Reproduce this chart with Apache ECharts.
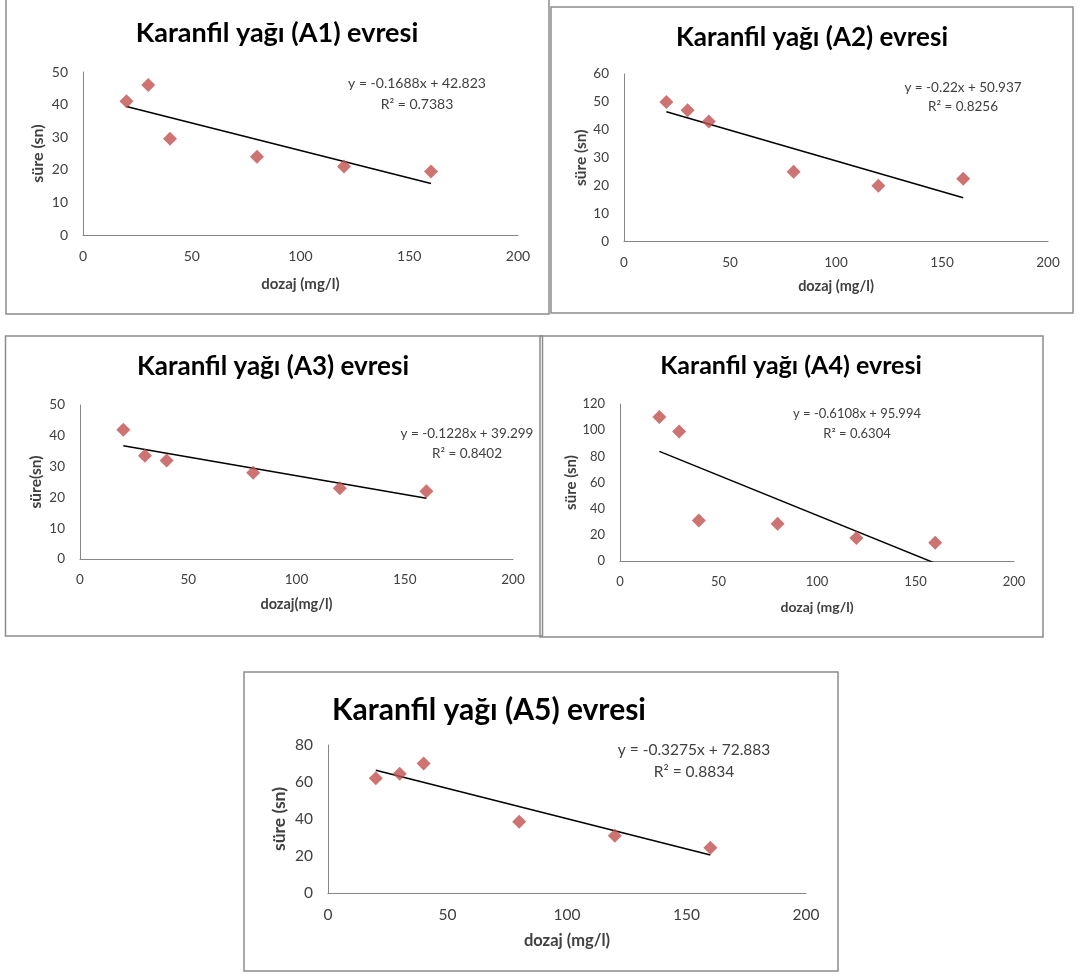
<!DOCTYPE html>
<html>
<head>
<meta charset="utf-8">
<script src="https://cdn.jsdelivr.net/npm/echarts@6/dist/echarts.min.js"></script>
<style>
  html, body { margin: 0; padding: 0; background: #ffffff; }
  #chart { width: 1081px; height: 976px; }
</style>
</head>
<body>
<div id="chart"></div>
<script>
// ---- data ----
const dose = [20, 30, 40, 80, 120, 160];
const timeA1 = [41, 46, 29.5, 24, 21, 19.5];
const timeA2 = [50, 47, 43, 25, 20, 22.5];
const timeA3 = [42, 33.5, 32, 28, 23, 22];
const timeA4 = [110, 99, 31, 28.5, 17.5, 14];
const timeA5 = [62, 64.5, 70, 38.5, 31, 24.5];

// trendline end points (x = 20 and x = 160) as drawn in the reference
const trendX = [20, 160];
const trendA1 = [39.4, 15.8];
const trendA2 = [46.5, 15.7];
const trendA3 = [36.8, 19.7];
const trendA4 = [83.8, -1.7];
const trendA5 = [66.3, 20.5];

const titles = [
  'Karanfil yağı (A1) evresi',
  'Karanfil yağı (A2) evresi',
  'Karanfil yağı (A3) evresi',
  'Karanfil yağı (A4) evresi',
  'Karanfil yağı (A5) evresi'
];
const equations = [
  'y = -0.1688x + 42.823',
  'y = -0.22x + 50.937',
  'y = -0.1228x + 39.299',
  'y = -0.6108x + 95.994',
  'y = -0.3275x + 72.883'
];
const rSquared = ['R² = 0.7383', 'R² = 0.8256', 'R² = 0.8402', 'R² = 0.6304', 'R² = 0.8834'];
const xNames = ['dozaj (mg/l)', 'dozaj (mg/l)', 'dozaj(mg/l)', 'dozaj (mg/l)', 'dozaj (mg/l)'];
const yNames = ['süre (sn)', 'süre (sn)', 'süre(sn)', 'süre (sn)', 'süre (sn)'];
const xMax = 200, xInterval = 50;
const yMax = [50, 60, 50, 120, 80];
const yInterval = [10, 10, 10, 20, 20];

// ---- layout (pixels) ----
const grids = [
  { left: 83, top: 72, width: 435, height: 163 },
  { left: 624, top: 74, width: 424, height: 167.5 },
  { left: 80, top: 405, width: 433, height: 154 },
  { left: 620, top: 404, width: 394, height: 157 },
  { left: 328, top: 745, width: 478, height: 148 }
];
const frames = [
  [6, -2, 543, 316],
  [551, 7, 522, 306],
  [5.5, 336, 537, 300],
  [540, 336, 503, 301],
  [244, 672, 594, 299]
];
const panelScale = [1, 0.97, 0.98, 0.93, 1.1];
const titlePos = [[277, 33], [812, 38], [273, 367], [791, 366], [489, 710]];
const eqPos = [[417, 83, 104], [963, 88, 107], [467, 434, 454], [857, 414, 434], [694, 750, 772]];
const yNameGap = [37, 35, 36, 40, 40];
const xNameGap = [42, 37, 38, 39, 39];

const series = [timeA1, timeA2, timeA3, timeA4, timeA5];
const trends = [trendA1, trendA2, trendA3, trendA4, trendA5];

const FONT = 'Lato, "Open Sans", sans-serif';
const axisColor = '#868686';
const labelColor = '#404040';
const half = v => Math.round(v * 2) / 2;

const option = {
  animation: false,
  backgroundColor: '#ffffff',
  grid: grids.map(g => Object.assign({ containLabel: false }, g)),
  xAxis: grids.map((g, i) => ({
    type: 'value', gridIndex: i, min: 0, max: xMax, interval: xInterval,
    name: xNames[i], nameLocation: 'middle', nameGap: xNameGap[i],
    nameTextStyle: { fontFamily: FONT, fontWeight: 'bold', fontSize: half(15 * panelScale[i]), color: labelColor },
    axisLine: { show: true, lineStyle: { color: axisColor, width: 1 } },
    axisTick: { show: false },
    splitLine: { show: false },
    axisLabel: { fontFamily: FONT, fontSize: half(14 * panelScale[i]), color: labelColor, margin: 14 }
  })),
  yAxis: grids.map((g, i) => ({
    type: 'value', gridIndex: i, min: 0, max: yMax[i], interval: yInterval[i],
    name: yNames[i], nameLocation: 'middle', nameGap: yNameGap[i], nameRotate: 90,
    nameTextStyle: { fontFamily: FONT, fontWeight: 'bold', fontSize: half(16 * panelScale[i]), color: labelColor },
    axisLine: { show: true, lineStyle: { color: axisColor, width: 1 } },
    axisTick: { show: false },
    splitLine: { show: false },
    axisLabel: { fontFamily: FONT, fontSize: half(14 * panelScale[i]), color: labelColor, margin: 15 }
  })),
  series: [].concat(
    series.map((vals, i) => ({
      type: 'scatter', xAxisIndex: i, yAxisIndex: i,
      symbol: 'diamond', symbolSize: 14,
      itemStyle: { color: '#C0504D' },
      data: dose.map((d, k) => [d, vals[k]]),
      z: 3
    })),
    trends.map((t, i) => ({
      type: 'line', xAxisIndex: i, yAxisIndex: i,
      symbol: 'none', clip: true,
      lineStyle: { color: '#000000', width: 1.5 },
      data: trendX.map((x, k) => [x, t[k]]),
      z: 2
    }))
  ),
  graphic: [].concat(
    frames.map(f => ({
      type: 'rect', shape: { x: f[0], y: f[1], width: f[2], height: f[3] },
      style: { fill: 'none', stroke: '#8c8c8c', lineWidth: 1.5 }, z: 0
    })),
    titlePos.map((p, i) => ({
      type: 'text', x: p[0], y: p[1],
      style: { text: titles[i], fontFamily: FONT, fontWeight: 'bold', fontSize: Math.round(27 * panelScale[i]),
               fill: '#000000', textAlign: 'center', textVerticalAlign: 'middle' }
    })),
    eqPos.map((p, i) => ({
      type: 'text', x: p[0], y: p[1],
      style: { text: equations[i], fontFamily: FONT, fontSize: half(14 * panelScale[i]),
               fill: labelColor, textAlign: 'center', textVerticalAlign: 'middle' }
    })),
    eqPos.map((p, i) => ({
      type: 'text', x: p[0], y: p[2],
      style: { text: rSquared[i], fontFamily: FONT, fontSize: half(14 * panelScale[i]),
               fill: labelColor, textAlign: 'center', textVerticalAlign: 'middle' }
    }))
  )
};

const chart = echarts.init(document.getElementById('chart'), null, { renderer: 'canvas' });
chart.setOption(option);
</script>
</body>
</html>
